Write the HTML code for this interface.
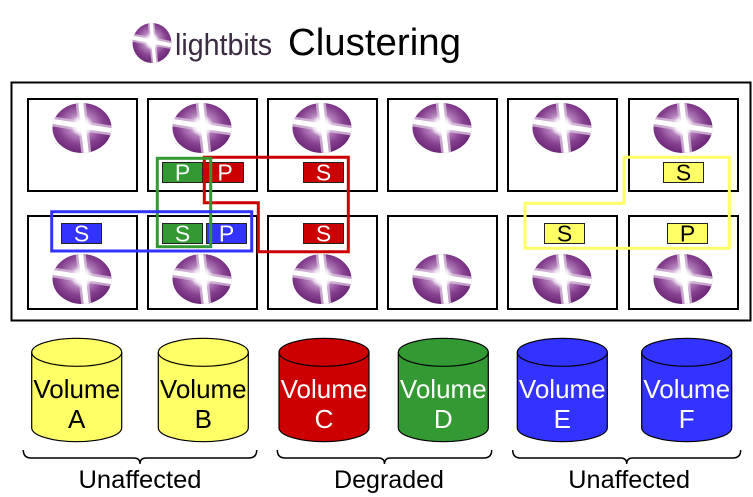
<!DOCTYPE html>
<html><head><meta charset="utf-8"><style>
html,body{margin:0;padding:0;background:#fff;}
svg{display:block;font-family:"Liberation Sans",Arial,sans-serif;}
</style></head><body>
<svg width="753" height="497" viewBox="0 0 753 497" xmlns="http://www.w3.org/2000/svg">
<defs>
<radialGradient id="g" cx="0.48" cy="0.44" r="0.56">
<stop offset="0" stop-color="#ffffff"/>
<stop offset="0.15" stop-color="#efe4f1"/>
<stop offset="0.4" stop-color="#b27fba"/>
<stop offset="0.7" stop-color="#86408f"/>
<stop offset="1" stop-color="#6a2776"/>
</radialGradient>
<radialGradient id="glow" cx="0.5" cy="0.5" r="0.5">
<stop offset="0" stop-color="#ffffff" stop-opacity="1"/>
<stop offset="0.5" stop-color="#ffffff" stop-opacity="0.9"/>
<stop offset="1" stop-color="#ffffff" stop-opacity="0"/>
</radialGradient>
<clipPath id="ec"><ellipse cx="0" cy="0" rx="29.5" ry="25"/></clipPath>
<g id="logo">
<ellipse cx="0" cy="0" rx="29.5" ry="25" fill="url(#g)"/>
<g clip-path="url(#ec)">
<line x1="-32" y1="-7" x2="32" y2="3" stroke="#dcc6e0" stroke-width="10" opacity="0.75"/>
<line x1="-1.5" y1="-27" x2="4.5" y2="27" stroke="#dcc6e0" stroke-width="10" opacity="0.75"/>
<line x1="-32" y1="-7" x2="32" y2="3" stroke="#fff" stroke-width="5"/>
<line x1="-1.5" y1="-27" x2="4.5" y2="27" stroke="#fff" stroke-width="5"/>
</g>
<circle cx="0" cy="-2" r="11" fill="url(#glow)"/>
</g>
</defs>

<!-- Title -->
<use href="#logo" transform="translate(152,43) scale(0.66,0.8)"/>
<text x="175" y="55" font-size="31" fill="#3a2a42" textLength="97" lengthAdjust="spacingAndGlyphs">lightbits</text>
<text x="288" y="55" font-size="38" fill="#000" textLength="173" lengthAdjust="spacingAndGlyphs">Clustering</text>

<!-- Outer frame -->
<rect x="11.5" y="82.5" width="739" height="238" fill="none" stroke="#000" stroke-width="2"/>

<!-- Node boxes -->
<g fill="none" stroke="#000" stroke-width="2">
<rect x="28" y="99" width="109" height="92"/>
<rect x="148" y="99" width="109" height="92"/>
<rect x="268" y="99" width="109" height="92"/>
<rect x="388" y="99" width="109" height="92"/>
<rect x="508" y="99" width="109" height="92"/>
<rect x="629" y="99" width="109" height="92"/>
<rect x="28" y="216" width="109" height="93"/>
<rect x="148" y="216" width="109" height="93"/>
<rect x="268" y="216" width="109" height="93"/>
<rect x="388" y="216" width="109" height="93"/>
<rect x="508" y="216" width="109" height="93"/>
<rect x="629" y="216" width="109" height="93"/>
</g>

<!-- Logos -->
<use href="#logo" transform="translate(82,128)"/>
<use href="#logo" transform="translate(202,128)"/>
<use href="#logo" transform="translate(322,128)"/>
<use href="#logo" transform="translate(442,128)"/>
<use href="#logo" transform="translate(562,128)"/>
<use href="#logo" transform="translate(683,128)"/>
<use href="#logo" transform="translate(82,279)"/>
<use href="#logo" transform="translate(202,279)"/>
<use href="#logo" transform="translate(322,279)"/>
<use href="#logo" transform="translate(442,279)"/>
<use href="#logo" transform="translate(562,279)"/>
<use href="#logo" transform="translate(683,279)"/>

<!-- Tags -->
<g stroke="#222" stroke-width="1">
<rect x="162.5" y="162.5" width="40" height="20" fill="#339933"/>
<rect x="204.5" y="162.5" width="39" height="20" fill="#cc0000"/>
<rect x="303.5" y="162.5" width="40" height="20" fill="#cc0000"/>
<rect x="663.5" y="162.5" width="40" height="20" fill="#ffff66"/>
<rect x="61.5" y="223.5" width="40" height="20" fill="#3333ff"/>
<rect x="162.5" y="223.5" width="40" height="20" fill="#339933"/>
<rect x="206.5" y="223.5" width="40" height="20" fill="#3333ff"/>
<rect x="303.5" y="223.5" width="40" height="20" fill="#cc0000"/>
<rect x="544.5" y="223.5" width="40" height="20" fill="#ffff66"/>
<rect x="667.5" y="223.5" width="40" height="20" fill="#ffff66"/>
</g>
<g font-size="23" text-anchor="middle">
<text x="182.5" y="180.5" fill="#fff">P</text>
<text x="225" y="180.5" fill="#fff">P</text>
<text x="323.5" y="180.5" fill="#fff">S</text>
<text x="683.5" y="180.5" fill="#000">S</text>
<text x="81.5" y="241.5" fill="#fff">S</text>
<text x="182.5" y="241.5" fill="#fff">S</text>
<text x="226.5" y="241.5" fill="#fff">P</text>
<text x="323.5" y="241.5" fill="#fff">S</text>
<text x="564.5" y="241.5" fill="#000">S</text>
<text x="687.5" y="241.5" fill="#000">P</text>
</g>

<!-- Group outlines -->
<g fill="none" stroke-width="3">
<polygon points="204.3,157.3 348.3,157.3 348.3,251.7 258.3,251.7 258.3,202.7 204.3,202.7" stroke="#cc0000"/>
<rect x="157.3" y="158.3" width="53.4" height="88.4" stroke="#339933"/>
<rect x="51.7" y="211.7" width="200" height="39.3" stroke="#3333ff"/>
<polygon points="624,157.3 729.3,157.3 729.3,248.3 525,248.3 525,203.3 624,203.3" stroke="#ffff66"/>
</g>

<!-- Cylinders -->
<g stroke="#000" stroke-width="1.2">
<path d="M31.7,352.3 L31.7,427.7 A45,14 0 0 0 121.7,427.7 L121.7,352.3 A45,14 0 0 0 31.7,352.3 Z" fill="#ffff66"/>
<path d="M31.7,352.3 A45,14 0 0 0 121.7,352.3" fill="none"/>
<path d="M158.3,352.3 L158.3,427.7 A45,14 0 0 0 248.3,427.7 L248.3,352.3 A45,14 0 0 0 158.3,352.3 Z" fill="#ffff66"/>
<path d="M158.3,352.3 A45,14 0 0 0 248.3,352.3" fill="none"/>
<path d="M279,352.3 L279,427.7 A45,14 0 0 0 369,427.7 L369,352.3 A45,14 0 0 0 279,352.3 Z" fill="#cc0000"/>
<path d="M279,352.3 A45,14 0 0 0 369,352.3" fill="none"/>
<path d="M398.3,352.3 L398.3,427.7 A45,14 0 0 0 488.3,427.7 L488.3,352.3 A45,14 0 0 0 398.3,352.3 Z" fill="#339933"/>
<path d="M398.3,352.3 A45,14 0 0 0 488.3,352.3" fill="none"/>
<path d="M517.3,352.3 L517.3,427.7 A45,14 0 0 0 607.3,427.7 L607.3,352.3 A45,14 0 0 0 517.3,352.3 Z" fill="#3333ff"/>
<path d="M517.3,352.3 A45,14 0 0 0 607.3,352.3" fill="none"/>
<path d="M641.7,352.3 L641.7,427.7 A45,14 0 0 0 731.7,427.7 L731.7,352.3 A45,14 0 0 0 641.7,352.3 Z" fill="#3333ff"/>
<path d="M641.7,352.3 A45,14 0 0 0 731.7,352.3" fill="none"/>
</g>
<g font-size="26" text-anchor="middle">
<text x="76.7" y="398" fill="#000">Volume</text>
<text x="76.7" y="428" fill="#000">A</text>
<text x="203.3" y="398" fill="#000">Volume</text>
<text x="203.3" y="428" fill="#000">B</text>
<text x="324" y="398" fill="#fff">Volume</text>
<text x="324" y="428" fill="#fff">C</text>
<text x="443.3" y="398" fill="#fff">Volume</text>
<text x="443.3" y="428" fill="#fff">D</text>
<text x="562.3" y="398" fill="#fff">Volume</text>
<text x="562.3" y="428" fill="#fff">E</text>
<text x="686.7" y="398" fill="#fff">Volume</text>
<text x="686.7" y="428" fill="#fff">F</text>
</g>

<!-- Braces -->
<g fill="none" stroke="#000" stroke-width="1.5">
<path d="M23.3,450 Q23.3,458 31.3,458 L134,458 Q140,458 140,464 Q140,458 146,458 L248.7,458 Q256.7,458 256.7,450"/>
<path d="M277.3,450 Q277.3,458 285.3,458 L378.5,458 Q384.5,458 384.5,464 Q384.5,458 390.5,458 L483.7,458 Q491.7,458 491.7,450"/>
<path d="M512.7,450 Q512.7,458 520.7,458 L620.7,458 Q626.7,458 626.7,464 Q626.7,458 632.7,458 L732.7,458 Q740.7,458 740.7,450"/>
</g>
<g font-size="25" fill="#000">
<text x="78.5" y="488" textLength="123" lengthAdjust="spacingAndGlyphs">Unaffected</text>
<text x="334" y="488" textLength="110" lengthAdjust="spacingAndGlyphs">Degraded</text>
<text x="568.3" y="488" textLength="121.7" lengthAdjust="spacingAndGlyphs">Unaffected</text>
</g>
</svg>
</body></html>
